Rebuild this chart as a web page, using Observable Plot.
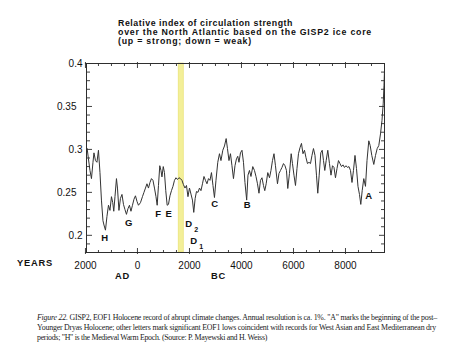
<!DOCTYPE html>
<html><head><meta charset="utf-8">
<script src="https://cdn.jsdelivr.net/npm/d3@7"></script>
<script src="https://cdn.jsdelivr.net/npm/@observablehq/plot@0.6"></script>
<style>
body{margin:0;background:#fff;}
#wrap{position:relative;width:450px;height:351px;overflow:hidden;font-family:"Liberation Sans",Arial,sans-serif;background:#fff;}
#chart{position:absolute;left:0;top:0;}
.t{position:absolute;left:118px;font-weight:bold;font-size:8.8px;line-height:8.8px;color:#111;white-space:nowrap;}
.lab{position:absolute;font-weight:bold;font-size:9.3px;line-height:9.3px;color:#111;white-space:nowrap;}
.cap{position:absolute;left:37px;font-family:"Liberation Serif","Times New Roman",serif;font-size:7.9px;line-height:7.9px;color:#222;white-space:nowrap;}
</style></head>
<body><div id="wrap">
<div id="chart"></div>
<div class="t" id="t1" style="top:19.3px">Relative index of circulation strength</div>
<div class="t" id="t2" style="top:28.3px">over the North Atlantic based on the GISP2 ice core</div>
<div class="t" id="t3" style="top:37.3px">(up = strong; down = weak)</div>
<div class="lab" style="left:17px;top:258.8px;letter-spacing:0.8px">YEARS</div>
<div class="lab" style="left:115px;top:272.3px;letter-spacing:0.8px">AD</div>
<div class="lab" style="left:211px;top:272.3px;letter-spacing:0.8px">BC</div>
<div class="cap" id="c1" style="top:313.6px"><i>Figure 22.</i> GISP2, EOF1 Holocene record of abrupt climate changes. Annual resolution is ca. 1%. "A" marks the beginning of the post–</div>
<div class="cap" id="c2" style="top:323.8px">Younger Dryas Holocene; other letters mark significant EOF1 lows coincident with records for West Asian and East Mediterranean dry</div>
<div class="cap" id="c3" style="top:334px">periods; "H" is the Medieval Warm Epoch. (Source: P. Mayewski and H. Weiss)</div>
</div>
<script>
// Years: negative = AD, positive = BC
const years = [
 -1935,-1885,-1827,-1769,-1711,-1673,-1615,-1558,-1500,-1442,
 -1385,-1327,-1288,-1231,-1173,-1115,-1058,-1000,-950,-911,
 -865,-808,-769,-712,-654,-596,-538,-481,-423,-365,
 -308,-250,-192,-135,-77,-19,38,115,192,250,
 308,365,423,481,538,596,654,712,758,808,
 858,904,942,992,1038,1088,1142,1192,1250,1308,
 1365,1423,1481,1538,1596,1654,1711,1769,1827,1885,
 1942,2000,2058,2115,2165,2219,2269,2327,2385,2442,
 2500,2558,2615,2673,2731,2788,2846,2904,2961,3019,
 3088,3154,3211,3281,3346,3411,3461,3519,3577,3634,
 3692,3750,3807,3857,3904,3961,4019,4077,4134,4200,
 4250,4307,4365,4434,4500,4558,4615,4673,4731,4788,
 4846,4896,4950,5011,5077,5134,5192,5250,5307,5384,
 5442,5500,5557,5615,5673,5730,5780,5846,5911,5961,
 6019,6077,6134,6192,6250,6307,6365,6423,6480,6538,
 6596,6654,6711,6769,6827,6884,6934,6988,7050,7104,
 7154,7204,7257,7319,7384,7442,7500,7557,7615,7673,
 7730,7788,7846,7904,7961,8019,8077,8134,8192,8250,
 8307,8365,8423,8480,8538,8588,8642,8703,8769,8827,
 8896,8950,9011,9088,9154,9219,9281,9346,9403,9450,
 9480,9500
];
const values = [
 0.301,0.289,0.2755,0.266,0.285,0.296,0.287,0.285,0.299,0.273,
 0.241,0.217,0.212,0.206,0.222,0.235,0.229,0.245,0.238,0.228,
 0.245,0.266,0.255,0.229,0.243,0.2476,0.236,0.230,0.2244,0.231,
 0.235,0.228,0.235,0.242,0.246,0.2395,0.235,0.238,0.245,0.250,
 0.255,0.260,0.255,0.2615,0.266,0.264,0.255,0.245,0.235,0.258,
 0.281,0.2755,0.268,0.280,0.273,0.252,0.235,0.236,0.246,0.252,
 0.257,0.264,0.267,0.265,0.267,0.266,0.264,0.259,0.255,0.258,
 0.245,0.255,0.248,0.241,0.2267,0.243,0.251,0.250,0.255,0.252,
 0.260,0.2685,0.264,0.260,0.266,0.264,0.273,0.258,0.244,0.264,
 0.285,0.295,0.287,0.299,0.304,0.3126,0.301,0.287,0.295,0.281,
 0.266,0.281,0.289,0.292,0.285,0.296,0.299,0.285,0.2615,0.241,
 0.270,0.2755,0.2685,0.280,0.2755,0.2685,0.260,0.249,0.264,0.267,
 0.258,0.252,0.260,0.273,0.267,0.2755,0.287,0.295,0.281,0.260,
 0.272,0.2755,0.279,0.2835,0.281,0.2755,0.2545,0.272,0.295,0.2835,
 0.270,0.258,0.2777,0.295,0.302,0.307,0.295,0.299,0.2905,0.2835,
 0.285,0.2835,0.293,0.301,0.293,0.270,0.249,0.270,0.296,0.299,
 0.287,0.2755,0.287,0.299,0.2835,0.270,0.281,0.279,0.267,0.2777,
 0.287,0.2835,0.280,0.282,0.279,0.281,0.279,0.280,0.2755,0.2615,
 0.2755,0.293,0.2777,0.257,0.2475,0.236,0.252,0.266,0.257,0.287,
 0.310,0.3045,0.293,0.2825,0.293,0.301,0.3045,0.318,0.3335,0.353,
 0.374,0.3915
];
const xTickValues = [-2000, 0, 2000, 4000, 6000, 8000];
const xTickLabels = ["2000", "0", "2000", "4000", "6000", "8000"];
const yTickValues = [0.2, 0.25, 0.3, 0.35, 0.4];
const yTickLabels = ["0.2", "0.25", "0.3", "0.35", "0.4"];
const eventLetters = ["H", "G", "F", "E", "D", "D", "C", "B", "A"];
const eventSubs    = ["", "", "", "", "2", "1", "", "", ""];
const eventYears   = [-1258, -335, 796, 1204, 1973, 2165, 2973, 4219, 8896];
const eventValues  = [0.1973, 0.2143, 0.2252, 0.2252, 0.2136, 0.1934, 0.236, 0.2348, 0.2456];
const bandYears = [1585, 1780];

const data = years.map((y, i) => ({year: y, value: values[i]}));
const events = eventLetters.map((l, i) => ({letter: l, sub: eventSubs[i], year: eventYears[i], value: eventValues[i]}));
const xMinor = d3.range(-1500, 9501, 500).filter(d => d % 2000 !== 0);
const yMinor = d3.range(18, 41).map(d => d / 100).filter(d => Math.round(d * 100) % 5 !== 0);
const yMajorA = [0.2, 0.3, 0.4];
const yMajorB = [0.25, 0.35];
const ylab = d => yTickLabels[yTickValues.findIndex(v => Math.abs(v - d) < 1e-9)];
const xlab = d => xTickLabels[xTickValues.indexOf(d)];

const ink = "#2e2e2e";
const tk = (o) => ({fill: "none", label: null, stroke: ink, strokeWidth: 0.9, ...o});

const chart = Plot.plot({
  width: 450, height: 351,
  marginLeft: 86, marginRight: 66, marginTop: 63, marginBottom: 99,
  x: {domain: [-1960, 9500], axis: null, label: null},
  y: {domain: [0.18, 0.4], axis: null, label: null},
  style: {fontFamily: "'Liberation Sans', Arial, sans-serif", color: "#111", background: "transparent"},
  marks: [
    Plot.rect([{a: bandYears[0], b: bandYears[1]}], {x1: "a", x2: "b", fill: "#f3ef98", stroke: "#e6df6a", strokeWidth: 0.6}),
    Plot.line(data, {x: "year", y: "value", stroke: "#333", strokeWidth: 1}),
    Plot.frame({stroke: ink, strokeWidth: 1}),
    // bottom inward ticks
    Plot.axisX(xMinor, tk({anchor: "top", frameAnchor: "bottom", tickSize: 3})),
    Plot.axisX(xTickValues, tk({anchor: "top", frameAnchor: "bottom", tickSize: 5})),
    Plot.axisX(xTickValues, tk({anchor: "bottom", tickSize: 2})),
    // top inward ticks
    Plot.axisX(xMinor, tk({anchor: "bottom", frameAnchor: "top", tickSize: 3})),
    Plot.axisX(xTickValues, tk({anchor: "bottom", frameAnchor: "top", tickSize: 5})),
    Plot.axisX(xTickValues, tk({anchor: "top", tickSize: 2})),
    // left inward ticks
    Plot.axisY(yMinor, tk({anchor: "right", frameAnchor: "left", tickSize: 3})),
    Plot.axisY(yTickValues, tk({anchor: "right", frameAnchor: "left", tickSize: 5})),
    // right inward ticks
    Plot.axisY(yMinor, tk({anchor: "left", frameAnchor: "right", tickSize: 3})),
    Plot.axisY(yTickValues, tk({anchor: "left", frameAnchor: "right", tickSize: 5})),
    // labels
    Plot.axisX(xTickValues, {anchor: "bottom", tickSize: 0, tickPadding: 9, tickFormat: xlab, fontSize: 10, label: null, fill: "#111"}),
    Plot.axisY(yMajorA, {anchor: "left", tickSize: 0, tickPadding: 4, tickFormat: ylab, fontSize: 10, label: null, fill: "#111"}),
    Plot.axisY(yMajorB, {anchor: "left", tickSize: 0, tickPadding: 10, tickFormat: ylab, fontSize: 10, label: null, fill: "#111"}),
    // event letters
    Plot.text(events, {x: "year", y: "value", text: "letter", fontSize: 9.5, fontWeight: "bold", fill: "#111"}),
    Plot.text(events.filter(d => d.sub), {x: "year", y: "value", text: "sub", fontSize: 7, fontWeight: "bold", fill: "#111", dx: 7.5, dy: 6})
  ]
});
document.getElementById("chart").appendChild(chart);

function fit(id, target) {
  const el = document.getElementById(id);
  el.style.letterSpacing = "0px";
  const w = el.getBoundingClientRect().width;
  const n = el.textContent.length;
  el.style.letterSpacing = ((target - w) / n) + "px";
}
fit("t1", 175); fit("t2", 254); fit("t3", 134);
fit("c1", 400); fit("c2", 399); fit("c3", 230);
</script>
</body></html>
